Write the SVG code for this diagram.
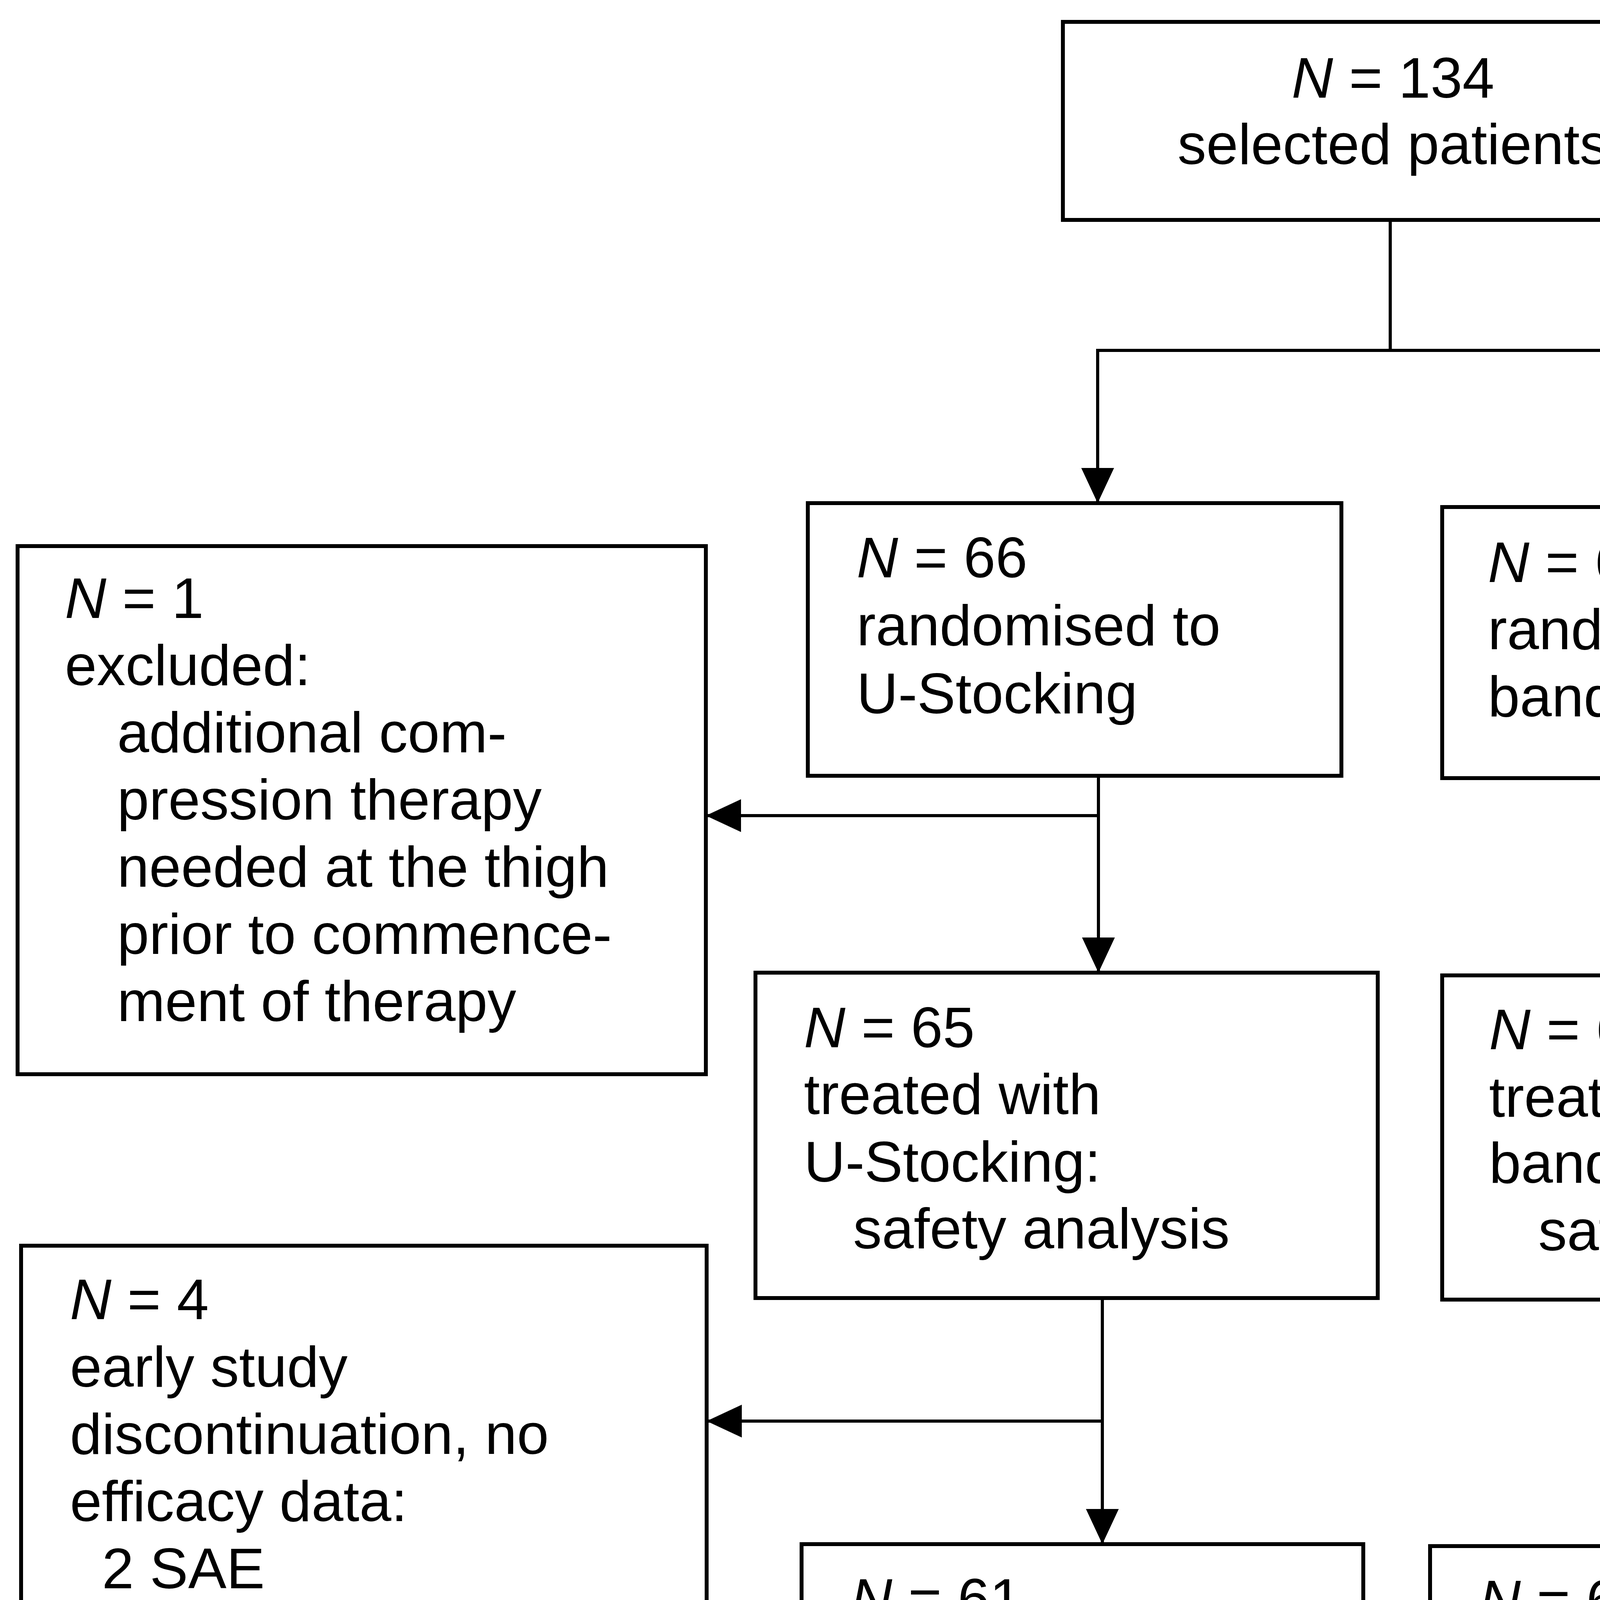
<svg xmlns="http://www.w3.org/2000/svg" width="7087" height="4795" viewBox="0 0 7087 4795">
<defs>
<style>
.box{fill:#fff;stroke:#000;stroke-width:10}
.ln{fill:none;stroke:#000;stroke-width:8}
text{font-family:"Liberation Sans",Arial,sans-serif;font-size:147px;fill:#000}
.i{font-style:italic}
</style>
<marker id="ah" viewBox="0 0 90 84" refX="90" refY="42" markerWidth="90" markerHeight="84" markerUnits="userSpaceOnUse" orient="auto">
<path d="M0,0 L90,42 L0,84 Z" fill="#000"/>
</marker>
</defs>
<rect width="7087" height="4795" fill="#fff"/>

<g id="connectors">
<polyline class="ln" points="3559,563 3559,897 2810,897 2810,1288" marker-end="url(#ah)"/>
<polyline class="ln" points="3559,897 4338,897 4338,1296" marker-end="url(#ah)"/>
<line class="ln" x1="2812" y1="1986" x2="2812" y2="2490" marker-end="url(#ah)"/>
<line class="ln" x1="2812" y1="2088" x2="1807" y2="2088" marker-end="url(#ah)"/>
<line class="ln" x1="4340" y1="1992" x2="4340" y2="2497" marker-end="url(#ah)"/>
<line class="ln" x1="4340" y1="2098" x2="5366" y2="2098" marker-end="url(#ah)"/>
<line class="ln" x1="2822" y1="3323" x2="2822" y2="3953" marker-end="url(#ah)"/>
<line class="ln" x1="2822" y1="3638" x2="1809" y2="3638" marker-end="url(#ah)"/>
<line class="ln" x1="4344" y1="3327" x2="4344" y2="3958" marker-end="url(#ah)"/>
<line class="ln" x1="4344" y1="3655" x2="5366" y2="3655" marker-end="url(#ah)"/>
</g>

<g id="n134">
<rect class="box" x="2721" y="56" width="1693" height="507"/>
<text x="3566" y="250" text-anchor="middle"><tspan class="i">N</tspan> = 134</text>
<text x="3566" y="420" text-anchor="middle">selected patients</text>
</g>

<g id="n66">
<rect class="box" x="2068" y="1288" width="1366" height="698"/>
<text x="2193" y="1478"><tspan class="i">N</tspan> = 66</text>
<text x="2193" y="1652">randomised to</text>
<text x="2193" y="1826">U-Stocking</text>
</g>

<g id="n68">
<rect class="box" x="3692" y="1298" width="1475" height="694"/>
<text x="3809" y="1490"><tspan class="i">N</tspan> = 68</text>
<text x="3809" y="1662">randomised to</text>
<text x="3809" y="1834">bandages</text>
</g>

<g id="excl-left">
<rect class="box" x="45" y="1398" width="1762" height="1352"/>
<text x="166" y="1582"><tspan class="i">N</tspan> = 1</text>
<text x="166" y="1754">excluded:</text>
<text x="300" y="1926">additional com-</text>
<text x="300" y="2098">pression therapy</text>
<text x="300" y="2270">needed at the thigh</text>
<text x="300" y="2442">prior to commence-</text>
<text x="300" y="2614">ment of therapy</text>
</g>

<g id="excl-right">
<rect class="box" x="5366" y="1691" width="1716" height="888"/>
<text x="5489" y="1884"><tspan class="i">N</tspan> = 1</text>
<text x="5489" y="2058">excluded:</text>
<text x="5489" y="2228">treatment refused prior</text>
<text x="5489" y="2398">to start of therapy</text>
</g>

<g id="n65">
<rect class="box" x="1934" y="2490" width="1593" height="833"/>
<text x="2058" y="2681"><tspan class="i">N</tspan> = 65</text>
<text x="2058" y="2852">treated with</text>
<text x="2058" y="3025">U-Stocking:</text>
<text x="2184" y="3196">safety analysis</text>
</g>

<g id="n67">
<rect class="box" x="3692" y="2497" width="1477" height="830"/>
<text x="3812" y="2686"><tspan class="i">N</tspan> = 67</text>
<text x="3812" y="2859">treated with</text>
<text x="3812" y="3028">bandages:</text>
<text x="3938" y="3201">safety analysis</text>
</g>

<g id="disc-left">
<rect class="box" x="54" y="3189" width="1755" height="1161"/>
<text x="179" y="3377"><tspan class="i">N</tspan> = 4</text>
<text x="179" y="3550">early study</text>
<text x="179" y="3722">discontinuation, no</text>
<text x="179" y="3894">efficacy data:</text>
<text x="261" y="4066">2 SAE</text>
<text x="261" y="4238">2 exclusion criteria</text>
</g>

<g id="disc-right">
<rect class="box" x="5366" y="3048" width="1716" height="1223"/>
<text x="5483" y="3238">7 early study</text>
<text x="5483" y="3408">discontinuation, no</text>
<text x="5483" y="3578">efficacy data:</text>
<text x="5573" y="3748">2 SAE / AE</text>
<text x="5573" y="3918">2 exclusion criteria</text>
<text x="5573" y="4088">3 lost to follow-up</text>
</g>

<g id="n61">
<rect class="box" x="2052" y="3953" width="1438" height="900"/>
<text x="2178" y="4144"><tspan class="i">N</tspan> = 61</text>
<text x="2178" y="4318">evaluable for</text>
<text x="2178" y="4490">ITT/primary</text>
<text x="2178" y="4662">efficacy analyses</text>
</g>

<g id="n60">
<rect class="box" x="3661" y="3958" width="1504" height="900"/>
<text x="3787" y="4148"><tspan class="i">N</tspan> = 60</text>
<text x="3787" y="4320">evaluable for</text>
<text x="3787" y="4492">ITT/primary efficacy</text>
<text x="3787" y="4664">analyses</text>
</g>
</svg>
